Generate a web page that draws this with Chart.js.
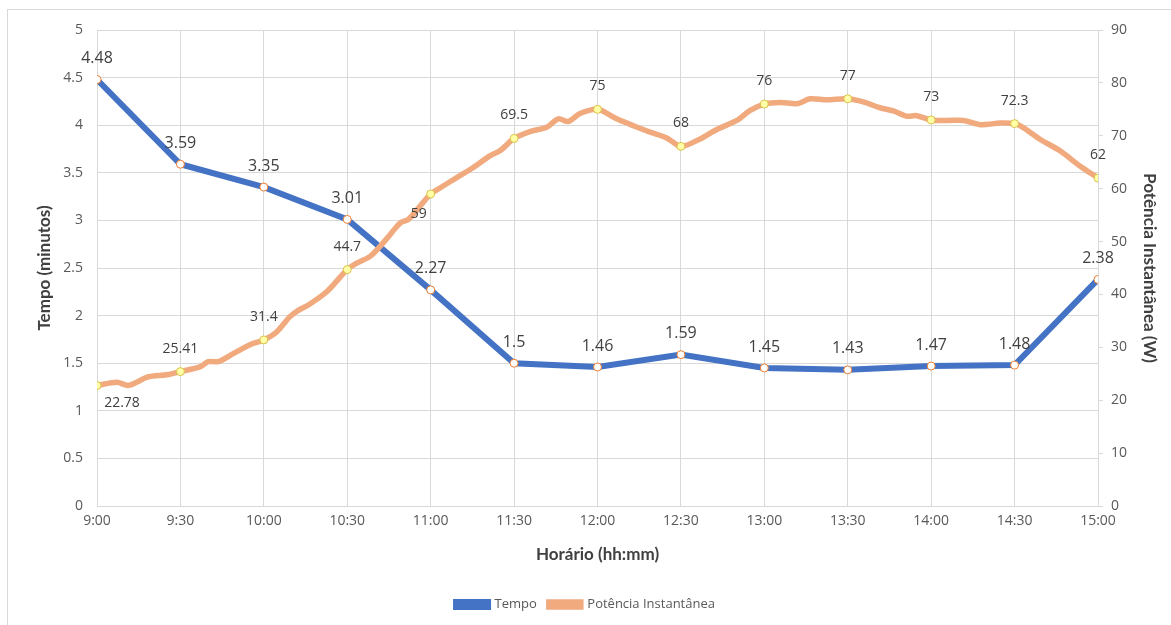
<!DOCTYPE html>
<html lang="pt">
<head>
<meta charset="utf-8">
<title>Tempo e Potência Instantânea</title>
<script src="https://cdn.jsdelivr.net/npm/chart.js@4.4.1/dist/chart.umd.min.js"></script>
<style>
    html, body { margin: 0; padding: 0; background: #ffffff; }
    #grafico { display: block; }
</style>
</head>
<body>
<canvas id="grafico" width="1171" height="625"></canvas>
<script>
// Horários (rótulos do eixo X, a cada 30 minutos a partir de 9:00)
const horarios = ['9:00', '9:30', '10:00', '10:30', '11:00', '11:30', '12:00',
                  '12:30', '13:00', '13:30', '14:00', '14:30', '15:00'];

// Tempo (minutos), um valor por horário
const tempo = [4.48, 3.59, 3.35, 3.01, 2.27, 1.5, 1.46, 1.59, 1.45, 1.43, 1.47, 1.48, 2.38];

// Potência instantânea (W): leitura contínua, minutos após as 9:00
const potenciaMinutos = [
    0, 7.2, 11.3, 18.4, 25.1,
    30, 37.0, 40.0, 43.6, 49.0, 55.0,
    60, 64.6, 69.4, 72.4, 76.0, 82.6,
    90, 93.4, 98.2, 101.8, 105.4, 109.0, 112.0, 116.2,
    120, 124.5, 129.4, 135.3, 141.3, 145.0,
    150, 155.7, 161.7, 165.9, 169.5, 173.7,
    180, 186.9, 192.9, 198.9, 204.9,
    210, 216.9, 222.9, 230.1, 234.9,
    240, 245.6, 252.2, 256.4, 262.4,
    270, 275.6, 281.6, 286.4, 291.2, 294.8,
    300, 305.6, 311.6, 317.6, 324.8,
    330, 333.0, 339.0, 346.2, 353.5,
    360
];
const potenciaValores = [
    22.78, 23.4, 22.8, 24.4, 24.8,
    25.41, 26.3, 27.3, 27.3, 28.8, 30.5,
    31.4, 32.9, 35.8, 37.0, 38.0, 40.5,
    44.7, 45.9, 47.2, 49.1, 51.3, 53.5, 54.2, 56.7,
    59, 60.5, 62.1, 64.0, 66.2, 67.2,
    69.5, 70.8, 71.6, 73.2, 72.7, 74.2,
    75, 73.2, 71.9, 70.7, 69.6,
    68, 69.4, 71.2, 72.9, 74.8,
    76, 76.3, 76.1, 77.0, 76.8,
    77, 76.4, 75.3, 74.7, 73.7, 73.8,
    73, 72.9, 72.9, 72.1, 72.4,
    72.3, 71.6, 69.4, 67.2, 64.3,
    62
];

const FONTE = "'Open Sans', 'Noto Sans', sans-serif";
const FONTE_TITULO = "Lato, 'Open Sans', sans-serif";
const COR_TEXTO = '#595959';
const COR_GRADE = '#d9d9d9';

const ehMarco = m => m % 30 === 0;

/**
 * Rótulos de dados desenhados junto aos marcadores.
 * Cada dataset informa fonte e a posição de cada rótulo.
 */
const rotulosPlugin = {
    id: 'rotulos',
    afterDatasetsDraw(chart) {
        const ctx = chart.ctx;
        chart.data.datasets.forEach((ds, i) => {
            if (!ds.rotulos) return;
            const meta = chart.getDatasetMeta(i);
            let k = 0;
            meta.data.forEach((pt, j) => {
                const raw = ds.data[j];
                if (!ehMarco(raw.x)) return;
                const lado = ds.rotulos.lados[k] || 'cima';
                let dx = 0, dy = -ds.rotulos.dist;
                if (lado === 'baixo-dir') { dx = 25; dy = 17; }
                if (lado === 'baixo-esq') { dx = -12; dy = 20; }
                ctx.save();
                ctx.font = ds.rotulos.tamanho + 'px ' + FONTE;
                ctx.fillStyle = '#404040';
                ctx.textAlign = 'center';
                ctx.textBaseline = 'middle';
                ctx.fillText(String(raw.y), pt.x + dx, pt.y + dy);
                ctx.restore();
                k++;
            });
        });
    }
};

// Moldura cinza clara em volta do gráfico
const molduraPlugin = {
    id: 'moldura',
    beforeDraw(chart) {
        const ctx = chart.ctx;
        ctx.save();
        ctx.strokeStyle = '#d9d9d9';
        ctx.lineWidth = 1;
        ctx.strokeRect(7.5, 9.5, 1300, 800);
        ctx.restore();
    }
};

document.addEventListener('DOMContentLoaded', function () {
    if (typeof Chart === 'undefined') return;

    const canvas = document.getElementById('grafico');

    const dadosTempo = tempo.map((v, i) => ({ x: i * 30, y: v }));
    const dadosPotencia = potenciaMinutos.map((m, i) => ({ x: m, y: potenciaValores[i] }));

    new Chart(canvas, {
        type: 'line',
        data: {
            datasets: [{
                label: 'Tempo',
                data: dadosTempo,
                yAxisID: 'y',
                borderColor: '#4472c4',
                backgroundColor: '#4472c4',
                borderWidth: 6,
                pointRadius: 4,
                pointBackgroundColor: '#ffffff',
                pointBorderColor: '#ed7d31',
                pointBorderWidth: 1,
                tension: 0,
                order: 1,
                rotulos: { tamanho: 16, dist: 21, lados: [] },
            }, {
                label: 'Potência Instantânea',
                data: dadosPotencia,
                yAxisID: 'y1',
                borderColor: '#f1aa7e',
                backgroundColor: '#f1aa7e',
                borderWidth: 5.5,
                pointRadius: ctx => ehMarco(ctx.raw.x) ? 4 : 0,
                pointBackgroundColor: '#ffffa8',
                pointBorderColor: '#d9c04a',
                pointBorderWidth: 1,
                tension: 0.3,
                order: 0,
                rotulos: { tamanho: 14, dist: 23, lados: ['baixo-dir', 'cima', 'cima', 'cima', 'baixo-esq'] },
            }],
        },
        options: {
            responsive: false,
            animation: false,
            layout: { padding: { top: 30, left: 0, right: 0, bottom: 4 } },
            plugins: {
                legend: {
                    position: 'bottom',
                    labels: {
                        boxWidth: 32,
                        boxHeight: 5,
                        color: COR_TEXTO,
                        font: { family: FONTE, size: 13 },
                        padding: 12,
                        sort: (a, b) => a.datasetIndex - b.datasetIndex,
                    },
                },
                tooltip: { enabled: false },
            },
            scales: {
                x: {
                    type: 'linear',
                    min: 0,
                    max: 360,
                    afterFit: s => { s.height = 80; },
                    afterBuildTicks: s => { s.ticks = horarios.map((h, i) => ({ value: i * 30 })); },
                    ticks: {
                        color: COR_TEXTO,
                        font: { family: FONTE, size: 14 },
                        padding: 7,
                        maxRotation: 0,
                        autoSkip: false,
                        callback: v => horarios[v / 30],
                    },
                    grid: { color: COR_GRADE, drawTicks: false },
                    border: { color: COR_GRADE },
                    title: {
                        display: true,
                        text: 'Horário (hh:mm)',
                        color: '#404040',
                        font: { family: FONTE_TITULO, size: 17, weight: 'bold' },
                        padding: { top: 0, bottom: 21 },
                    },
                },
                y: {
                    position: 'left',
                    min: 0,
                    max: 5,
                    afterFit: s => { s.width = 97; },
                    ticks: {
                        stepSize: 0.5,
                        color: COR_TEXTO,
                        font: { family: FONTE, size: 14 },
                        padding: 14,
                        callback: v => String(Math.round(v * 10) / 10),
                    },
                    grid: { color: COR_GRADE, drawTicks: false },
                    border: { display: false },
                    title: {
                        display: true,
                        text: 'Tempo (minutos)',
                        color: '#404040',
                        font: { family: FONTE_TITULO, size: 17, weight: 'bold' },
                        padding: { top: 34, bottom: 0 },
                    },
                },
                y1: {
                    position: 'right',
                    min: 0,
                    max: 90,
                    afterFit: s => { s.width = 73; },
                    ticks: {
                        stepSize: 10,
                        color: COR_TEXTO,
                        font: { family: FONTE, size: 14 },
                        padding: 8,
                    },
                    grid: { drawOnChartArea: false, color: COR_GRADE, tickLength: 5 },
                    border: { color: COR_GRADE },
                    title: {
                        display: true,
                        text: 'Potência Instantânea (W)',
                        color: '#404040',
                        font: { family: FONTE_TITULO, size: 17, weight: 'bold' },
                        padding: { top: 11, bottom: 0 },
                    },
                },
            },
        },
        plugins: [molduraPlugin, rotulosPlugin],
    });
});
</script>
</body>
</html>
